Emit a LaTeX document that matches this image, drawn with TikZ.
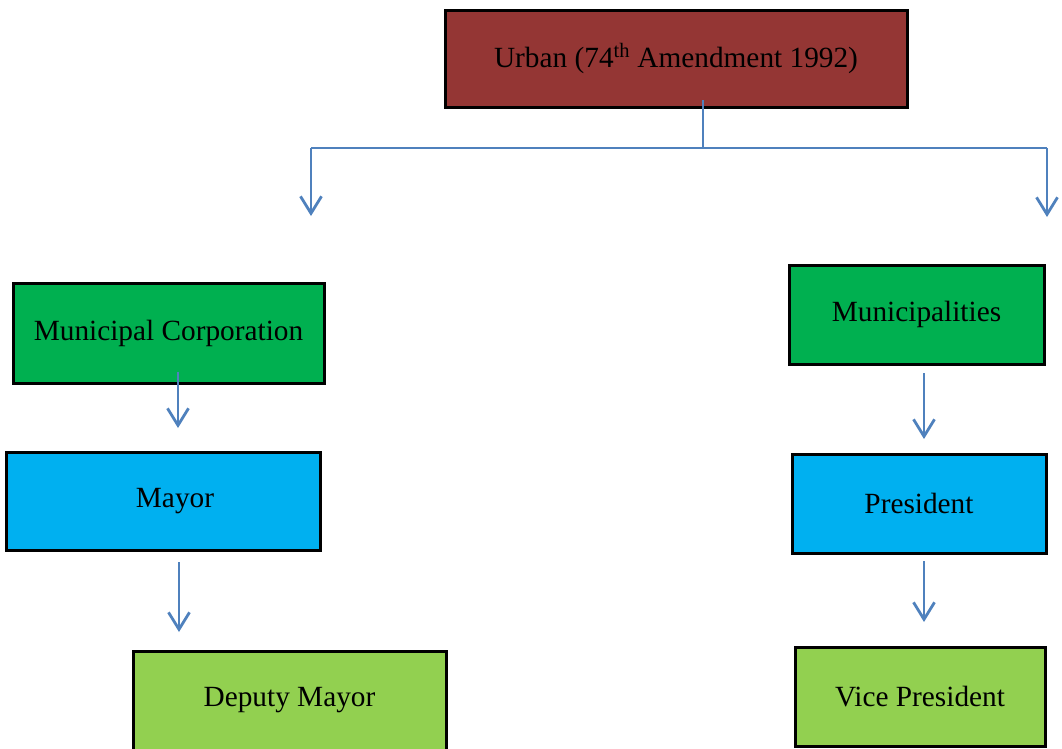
\documentclass[tikz,border=0pt]{standalone}
\usepackage{fontspec}
\setmainfont{Liberation Serif}
\usetikzlibrary{arrows.meta}
\definecolor{urbanred}{HTML}{943634}
\definecolor{dgreen}{HTML}{00B050}
\definecolor{cyanbox}{HTML}{00B0F0}
\definecolor{lgreen}{HTML}{92D050}
\definecolor{arrowblue}{HTML}{4F81BD}
\tikzset{
  box/.style={draw=black, line width=3pt, inner sep=0pt, font=\fontsize{29.3}{34}\selectfont, text=black},
  conn/.style={draw=arrowblue, line width=2.8pt},
  arr/.style={conn, -{Straight Barb[length=17pt,width=21pt,line width=2.8pt]}}
}
\begin{document}
\begin{tikzpicture}[x=1pt,y=-1pt]
\useasboundingbox (0,0) rectangle (1062,748);
\clip (0,0) rectangle (1062,748);
% boxes
\node[box, fill=urbanred, minimum width=462pt, minimum height=97pt] (urban) at (676,58.5) {\raisebox{-4pt}{Urban (74\textsuperscript{th} Amendment 1992)}};
\node[box, fill=dgreen, minimum width=311pt, minimum height=100pt] (mc) at (168.5,333) {\raisebox{-4pt}{Municipal Corporation}};
\node[box, fill=cyanbox, minimum width=314pt, minimum height=98pt] (mayor) at (163,501) {\raisebox{-4pt}{\hspace*{24pt}Mayor}};
\node[box, fill=lgreen, minimum width=313pt, minimum height=99pt] (deputy) at (289.5,700.5) {\raisebox{-4pt}{Deputy Mayor}};
\node[box, fill=dgreen, minimum width=255pt, minimum height=99pt] (muni) at (916.5,314.5) {\raisebox{-4pt}{Municipalities}};
\node[box, fill=cyanbox, minimum width=254pt, minimum height=99pt] (pres) at (919,503.5) {\raisebox{-4pt}{President}};
\node[box, fill=lgreen, minimum width=250pt, minimum height=99pt] (vp) at (920,696.5) {\raisebox{-4pt}{Vice President}};
% connector coordinates
\coordinate (u0) at (703,100);
\coordinate (u1) at (703,148);
\coordinate (l0) at (311,148);
\coordinate (l1) at (311,216);
\coordinate (r0) at (1047,148);
\coordinate (r1) at (1047,217);
\coordinate (mc0) at (178,372);
\coordinate (mc1) at (178,428);
\coordinate (my0) at (179,562);
\coordinate (my1) at (179,632);
\coordinate (mu0) at (924,373);
\coordinate (mu1) at (924,439);
\coordinate (pr0) at (924,561);
\coordinate (pr1) at (924,622);
% connectors
\draw[conn] (u0) -- (u1);
\draw[conn] (l0) -- (r0);
\draw[arr] (l0) -- (l1);
\draw[arr] (r0) -- (r1);
\draw[arr] (mc0) -- (mc1);
\draw[arr] (my0) -- (my1);
\draw[arr] (mu0) -- (mu1);
\draw[arr] (pr0) -- (pr1);
\end{tikzpicture}
\end{document}
